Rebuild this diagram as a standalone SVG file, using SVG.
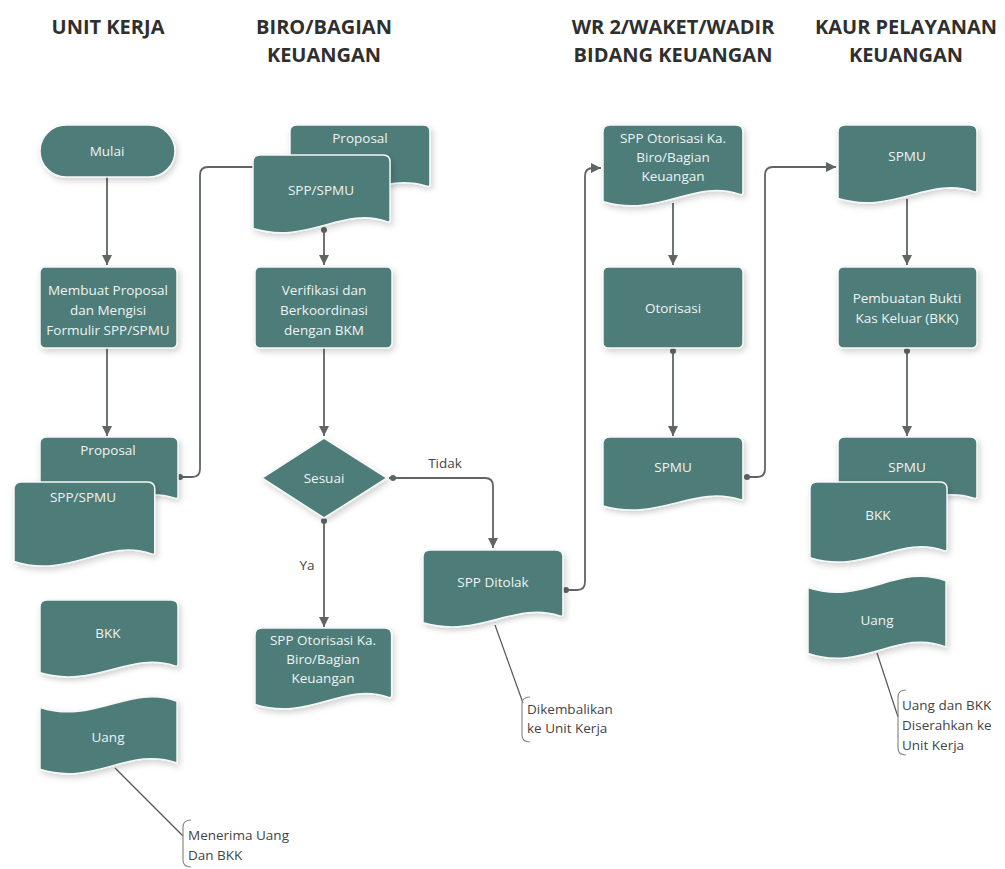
<svg xmlns="http://www.w3.org/2000/svg" xmlns:xlink="http://www.w3.org/1999/xlink" width="1005" height="869" viewBox="0 0 1005 869">
<style>
.hdr{font-family:"Open Sans","Liberation Sans",sans-serif;font-weight:bold;font-size:20px;fill:#2f2f2f;text-anchor:middle}
.shape{fill:#4d7b79;stroke:#f4f8f8;stroke-width:1.5;filter:url(#sh)}
.lbl{font-family:"Open Sans","Liberation Sans",sans-serif;font-size:13.5px;fill:#eef4f3;text-anchor:middle}
.cl{font-family:"Open Sans","Liberation Sans",sans-serif;font-size:13.5px;fill:#444}
.ann{font-family:"Open Sans","Liberation Sans",sans-serif;font-size:13.5px;fill:#444}
.con{fill:none;stroke:#5f6464;stroke-width:1.8}
.dot{fill:#5f6464}
.brk{fill:none;stroke:#8a8a8a;stroke-width:1.2}
.lead{fill:none;stroke:#555;stroke-width:1.2}
</style>
<defs>
<filter id="sh" x="-20%" y="-20%" width="140%" height="150%">
<feDropShadow dx="2" dy="3" stdDeviation="3" flood-color="#000" flood-opacity="0.18"/>
</filter>
<path id="doc" d="M0,7 Q0,0 7,0 H131 Q138,0 138,7 V66 Q138,69 135,68 C90,52 55,92 0,75 Z" vector-effect="non-scaling-stroke"/>
<path id="tape" d="M0,15 C55,32 90,-8 138,9 V69 C90,52 55,92 0,75 Z" vector-effect="non-scaling-stroke"/>
<marker id="arr" markerWidth="12" markerHeight="10" refX="10" refY="5" orient="auto" markerUnits="userSpaceOnUse">
<path d="M0,0 L10,5 L0,10 Z" fill="#5f6464"/>
</marker>
</defs>
<rect width="1005" height="869" fill="#ffffff"/>

<g id="headers">
<text class="hdr" x="108" y="34">UNIT KERJA</text>
<text class="hdr" x="324" y="34">BIRO/BAGIAN</text>
<text class="hdr" x="324" y="62">KEUANGAN</text>
<text class="hdr" x="673" y="34">WR 2/WAKET/WADIR</text>
<text class="hdr" x="673" y="62">BIDANG KEUANGAN</text>
<text class="hdr" x="906" y="34">KAUR PELAYANAN</text>
<text class="hdr" x="906" y="62">KEUANGAN</text>
</g>

<g id="connectors">
<path class="con" d="M107,177 V265" marker-end="url(#arr)"/>
<path class="con" d="M107,348 V436" marker-end="url(#arr)"/>
<path class="con" d="M178,477 H192 Q200,477 200,469 V175 Q200,167 208,167 H253"/>
<circle class="dot" cx="180" cy="477" r="3"/>
<path class="con" d="M324,228 V265" marker-end="url(#arr)"/>
<circle class="dot" cx="324" cy="230" r="3"/>
<path class="con" d="M324,348 V436" marker-end="url(#arr)"/>
<path class="con" d="M324,518 V627" marker-end="url(#arr)"/>
<circle class="dot" cx="324" cy="521" r="3"/>
<path class="con" d="M389,478 H485 Q493,478 493,486 V548" marker-end="url(#arr)"/>
<circle class="dot" cx="393" cy="478" r="3"/>
<path class="con" d="M564,590 H577 Q585,590 585,582 V176 Q585,168 593,168 H601" marker-end="url(#arr)"/>
<circle class="dot" cx="566" cy="590" r="3"/>
<path class="con" d="M673,203 V265" marker-end="url(#arr)"/>
<path class="con" d="M673,348 V436" marker-end="url(#arr)"/>
<circle class="dot" cx="673" cy="351" r="3"/>
<path class="con" d="M745,477 H757 Q765,477 765,469 V175 Q765,167 773,167 H836" marker-end="url(#arr)"/>
<circle class="dot" cx="747" cy="477" r="3"/>
<path class="con" d="M907,199 V265" marker-end="url(#arr)"/>
<path class="con" d="M907,348 V436" marker-end="url(#arr)"/>
<circle class="dot" cx="907" cy="351" r="3"/>
<text class="cl" x="445" y="468" text-anchor="middle">Tidak</text>
<text class="cl" x="307" y="570" text-anchor="middle">Ya</text>
</g>

<g id="unit-mulai">
<rect class="shape" x="40" y="125" width="135" height="52" rx="26"/>
<text class="lbl" x="107" y="156">Mulai</text>
</g>
<g id="unit-membuat">
<rect class="shape" x="40" y="267" width="137" height="81" rx="5"/>
<text class="lbl" x="108" y="295">Membuat Proposal</text>
<text class="lbl" x="108" y="315">dan Mengisi</text>
<text class="lbl" x="108" y="335">Formulir SPP/SPMU</text>
</g>
<g id="unit-proposal">
<use class="shape" href="#doc" xlink:href="#doc" transform="translate(40,437) scale(1,0.9)"/>
<text class="lbl" x="108" y="455">Proposal</text>
</g>
<g id="unit-spp">
<use class="shape" href="#doc" xlink:href="#doc" transform="translate(14,482) scale(1.02,1.06)"/>
<text class="lbl" x="83" y="502">SPP/SPMU</text>
</g>
<g id="unit-bkk">
<use class="shape" href="#doc" xlink:href="#doc" transform="translate(40,600) scale(1,0.97)"/>
<text class="lbl" x="108" y="638">BKK</text>
</g>
<g id="unit-uang">
<use class="shape" href="#tape" xlink:href="#tape" transform="translate(40,692) scale(0.993,1.03)"/>
<text class="lbl" x="108" y="742">Uang</text>
</g>
<g id="unit-note">
<path class="lead" d="M115,768 L183,836"/>
<path class="brk" d="M191,820 Q183,820 183,827 V860 Q183,867 191,867"/>
<text class="ann" x="188" y="840">Menerima Uang</text>
<text class="ann" x="188" y="860">Dan BKK</text>
</g>

<g id="biro-proposal">
<use class="shape" href="#doc" xlink:href="#doc" transform="translate(290,125) scale(1.014,0.9)"/>
<text class="lbl" x="360" y="143">Proposal</text>
</g>
<g id="biro-spp">
<use class="shape" href="#doc" xlink:href="#doc" transform="translate(253,155) scale(0.993,0.98)"/>
<text class="lbl" x="321" y="195">SPP/SPMU</text>
</g>
<g id="biro-verifikasi">
<rect class="shape" x="255" y="267" width="137" height="81" rx="5"/>
<text class="lbl" x="324" y="295">Verifikasi dan</text>
<text class="lbl" x="324" y="315">Berkoordinasi</text>
<text class="lbl" x="324" y="335">dengan BKM</text>
</g>
<g id="biro-sesuai">
<polygon class="shape" points="324,438 387,478 324,518 262,478" stroke-linejoin="round"/>
<text class="lbl" x="324" y="483">Sesuai</text>
</g>
<g id="biro-otorisasi">
<use class="shape" href="#doc" xlink:href="#doc" transform="translate(255,628) scale(0.99,1.02)"/>
<text class="lbl" x="323" y="645">SPP Otorisasi Ka.</text>
<text class="lbl" x="323" y="664">Biro/Bagian</text>
<text class="lbl" x="323" y="683">Keuangan</text>
</g>
<g id="biro-ditolak">
<use class="shape" href="#doc" xlink:href="#doc" transform="translate(423,550) scale(1.014,0.97)"/>
<text class="lbl" x="493" y="587">SPP Ditolak</text>
</g>
<g id="ditolak-note">
<path class="lead" d="M495,625 L523,703"/>
<path class="brk" d="M530,697 Q522,697 522,704 V735 Q522,742 530,742"/>
<text class="ann" x="527" y="714">Dikembalikan</text>
<text class="ann" x="527" y="733">ke Unit Kerja</text>
</g>

<g id="wr-spp">
<use class="shape" href="#doc" xlink:href="#doc" transform="translate(603,125) scale(1.014,1.02)"/>
<text class="lbl" x="673" y="143">SPP Otorisasi Ka.</text>
<text class="lbl" x="673" y="162">Biro/Bagian</text>
<text class="lbl" x="673" y="181">Keuangan</text>
</g>
<g id="wr-otorisasi">
<rect class="shape" x="603" y="267" width="140" height="81" rx="5"/>
<text class="lbl" x="673" y="313">Otorisasi</text>
</g>
<g id="wr-spmu">
<use class="shape" href="#doc" xlink:href="#doc" transform="translate(603,437) scale(1.014,0.92)"/>
<text class="lbl" x="673" y="472">SPMU</text>
</g>

<g id="kaur-spmu">
<use class="shape" href="#doc" xlink:href="#doc" transform="translate(838,125) scale(1.007,0.98)"/>
<text class="lbl" x="907" y="161">SPMU</text>
</g>
<g id="kaur-pembuatan">
<rect class="shape" x="838" y="267" width="139" height="81" rx="5"/>
<text class="lbl" x="907" y="303">Pembuatan Bukti</text>
<text class="lbl" x="907" y="323">Kas Keluar (BKK)</text>
</g>
<g id="kaur-spmu2">
<use class="shape" href="#doc" xlink:href="#doc" transform="translate(838,437) scale(1.007,0.9)"/>
<text class="lbl" x="907" y="472">SPMU</text>
</g>
<g id="kaur-bkk">
<use class="shape" href="#doc" xlink:href="#doc" transform="translate(810,482) scale(0.993,1.01)"/>
<text class="lbl" x="878" y="520">BKK</text>
</g>
<g id="kaur-uang">
<use class="shape" href="#tape" xlink:href="#tape" transform="translate(808,571) scale(1,1.1)"/>
<text class="lbl" x="877" y="625">Uang</text>
</g>
<g id="kaur-note">
<path class="lead" d="M877,653 L898,717"/>
<path class="brk" d="M906,690 Q898,690 898,697 V748 Q898,755 906,755"/>
<text class="ann" x="902" y="710">Uang dan BKK</text>
<text class="ann" x="902" y="730">Diserahkan ke</text>
<text class="ann" x="902" y="750">Unit Kerja</text>
</g>
</svg>
